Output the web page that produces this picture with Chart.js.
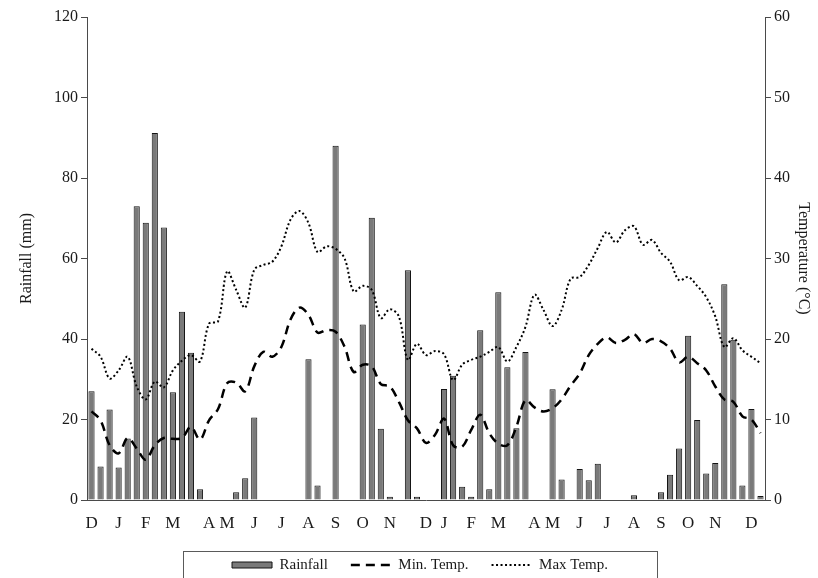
<!DOCTYPE html>
<html>
<head>
<meta charset="utf-8">
<script src="https://cdn.jsdelivr.net/npm/chart.js@4.4.1/dist/chart.umd.min.js"></script>
<style>
html,body{margin:0;padding:0;background:#fff;}
#wrap{width:818px;height:578px;position:relative;}
</style>
</head>
<body>
<div id="wrap"><canvas id="c" width="818" height="578"></canvas></div>
<script>
// Dekadal categories (month initial on the dekad where the original shows it)
const categories = [
  'D','','',  'J','','',  'F','','',  'M','','','',  'A','',  'M','','',
  'J','','',  'J','','',  'A','','',  'S','','',  'O','','',  'N','','','',
  'D','',  'J','','',  'F','','',  'M','','','',  'A','',  'M','','',
  'J','','',  'J','','',  'A','','',  'S','','',  'O','','',  'N','','','',
  'D',''
];

// Rainfall (mm) per dekad
const rainfall = [
  27.0, 8.3, 22.5, 8.1, 15.3, 73.0, 68.9, 91.2, 67.7, 26.8,
  46.8, 36.6, 2.7, 0, 0, 0, 1.9, 5.4, 20.5, 0,
  0, 0, 0, 0, 35.0, 3.6, 0, 88.0, 0, 0,
  43.6, 70.1, 17.7, 0.8, 0, 57.1, 0.8, 0, 0, 27.6,
  30.9, 3.3, 0.8, 42.2, 2.7, 51.6, 33.0, 17.8, 36.8, 0,
  0, 27.5, 5.1, 0, 7.7, 4.9, 9.0, 0, 0, 0,
  1.2, 0, 0, 1.9, 6.3, 12.8, 40.8, 19.9, 6.6, 9.2,
  53.6, 39.8, 3.6, 22.6, 1.0
];

// Minimum temperature (°C)
const minTemp = [
  11.0, 9.9, 6.8, 5.8, 7.7, 6.4, 5.0, 6.8, 7.7, 7.6,
  7.7, 9.1, 7.5, 9.9, 11.3, 14.5, 14.6, 13.5, 16.6, 18.4,
  17.8, 19.0, 22.4, 23.9, 23.0, 20.8, 21.1, 20.9, 19.0, 15.9,
  16.8, 16.6, 14.4, 14.1, 12.2, 9.9, 8.9, 7.1, 8.1, 10.1,
  6.8, 6.6, 8.7, 10.6, 8.3, 7.0, 6.8, 9.1, 12.4, 11.5,
  11.0, 11.4, 12.5, 14.2, 15.7, 18.0, 19.4, 20.2, 19.5, 19.9,
  20.6, 19.5, 20.0, 19.7, 18.8, 17.1, 17.8, 17.0, 16.1, 14.1,
  12.5, 12.2, 10.4, 10.0, 8.3
];

// Maximum temperature (°C)
const maxTemp = [
  18.8, 17.8, 15.1, 16.1, 17.8, 14.1, 12.5, 14.7, 14.0, 16.1,
  17.3, 18.0, 17.2, 21.9, 22.2, 28.4, 26.1, 23.9, 28.6, 29.2,
  29.6, 31.5, 34.8, 35.9, 34.4, 30.8, 31.5, 31.2, 30.0, 25.9,
  26.6, 26.1, 22.6, 23.7, 22.8, 17.4, 19.4, 18.0, 18.5, 18.1,
  14.9, 16.8, 17.4, 17.8, 18.4, 19.0, 17.2, 19.0, 21.5, 25.5,
  23.6, 21.6, 23.6, 27.5, 27.7, 29.2, 31.3, 33.3, 32.0, 33.5,
  34.0, 31.7, 32.3, 30.7, 29.6, 27.3, 27.7, 26.6, 25.2, 22.8,
  19.0, 20.1, 18.6, 17.8, 17.0
];

const rainTicks = {min: 0, max: 120, step: 20};
const tempTicks = {min: 0, max: 60, step: 10};

const SERIF = "'Liberation Serif', 'Times New Roman', serif";
const TEXT = '#1a1a1a';

const legendPad = 23;
const legendFont = 15;

// nudge the legend row into its place under the axis
const legendShift = {
  id: 'legendShift',
  afterLayout(chart) {
    const l = chart.legend;
    if (l) { l.top += 4.5; l.bottom += 4.5; l.left -= 6; l.right -= 6; }
  }
};

// thin frame round the legend (as in the original)
const legendFrame = {
  id: 'legendFrame',
  afterDraw(chart) {
    const l = chart.legend;
    if (!l || !l.legendHitBoxes || !l.legendHitBoxes.length) return;
    const hb = l.legendHitBoxes;
    const first = hb[0], last = hb[hb.length - 1];
    const mid = (first.left + last.left + last.width) / 2;
    const halfW = 237;
    const cy = first.top + first.height / 2;
    const c = chart.ctx;
    c.save();
    c.strokeStyle = '#5a5a5a';
    c.lineWidth = 1;
    c.setLineDash([]);
    c.strokeRect(Math.round(mid - halfW) + 0.5, Math.round(cy - 14) + 0.5, halfW * 2, 60);
    c.restore();
  }
};

new Chart(document.getElementById('c'), {
  type: 'bar',
  data: {
    labels: categories,
    datasets: [
      {
        type: 'bar',
        label: 'Rainfall',
        data: rainfall,
        yAxisID: 'y',
        backgroundColor: '#7a7a7a',
        borderColor: '#141414',
        borderWidth: 1,
        categoryPercentage: 1.0,
        barPercentage: 0.68,
        order: 2
      },
      {
        type: 'line',
        label: 'Min. Temp.',
        data: minTemp,
        yAxisID: 'y1',
        borderColor: '#000',
        backgroundColor: 'rgba(0,0,0,0)',
        borderWidth: 2.5,
        borderDash: [9, 6],
        pointRadius: 0,
        tension: 0.35,
        fill: false,
        order: 1
      },
      {
        type: 'line',
        label: 'Max Temp.',
        data: maxTemp,
        yAxisID: 'y1',
        borderColor: '#000',
        backgroundColor: 'rgba(0,0,0,0)',
        borderWidth: 2,
        borderDash: [2, 2.5],
        pointRadius: 0,
        tension: 0.35,
        fill: false,
        order: 0
      }
    ]
  },
  options: {
    responsive: false,
    animation: false,
    devicePixelRatio: 1,
    layout: { padding: { top: 17, left: 0, right: 0, bottom: 0 } },
    plugins: {
      tooltip: { enabled: false },
      legend: {
        display: true,
        position: 'bottom',
        fullSize: false,
        labels: {
          usePointStyle: true,
          pointStyleWidth: 40,
          boxWidth: 40,
          boxHeight: 6,
          padding: legendPad,
          color: TEXT,
          font: { family: SERIF, size: legendFont },
          generateLabels(chart) {
            return chart.data.datasets.map((ds, i) => ({
              text: ds.label,
              datasetIndex: i,
              hidden: false,
              fillStyle: ds.type === 'line' ? 'rgba(0,0,0,0)' : ds.backgroundColor,
              strokeStyle: ds.borderColor,
              lineWidth: ds.type === 'line' ? ds.borderWidth : 1,
              lineDash: ds.borderDash || [],
              pointStyle: ds.type === 'line' ? 'line' : 'rect',
              fontColor: TEXT
            }));
          }
        }
      }
    },
    scales: {
      x: {
        type: 'category',
        offset: true,
        grid: { display: false },
        border: { display: true, color: '#4a4a4a', width: 1 },
        ticks: {
          autoSkip: false,
          maxRotation: 0,
          minRotation: 0,
          padding: 5,
          color: TEXT,
          font: { family: SERIF, size: 17 }
        },
        afterFit(scale) { scale.height = 578 - 500 - (legendFont + legendPad + 10); }
      },
      y: {
        position: 'left',
        min: rainTicks.min,
        max: rainTicks.max,
        ticks: {
          stepSize: rainTicks.step,
          padding: 3,
          color: TEXT,
          font: { family: SERIF, size: 16 }
        },
        grid: { display: true, drawOnChartArea: false, drawTicks: true, tickLength: 6, color: '#4a4a4a' },
        border: { display: true, color: '#4a4a4a', width: 1 },
        title: {
          display: true,
          text: 'Rainfall (mm)',
          color: TEXT,
          font: { family: SERIF, size: 16 },
          padding: { top: 17, bottom: 0 }
        },
        afterFit(scale) { scale.width = 87; }
      },
      y1: {
        position: 'right',
        min: tempTicks.min,
        max: tempTicks.max,
        ticks: {
          stepSize: tempTicks.step,
          padding: 3,
          color: TEXT,
          font: { family: SERIF, size: 16 }
        },
        grid: { display: true, drawOnChartArea: false, drawTicks: true, tickLength: 6, color: '#4a4a4a' },
        border: { display: true, color: '#4a4a4a', width: 1 },
        title: {
          display: true,
          text: 'Temperature (°C)',
          color: TEXT,
          font: { family: SERIF, size: 16 },
          padding: { top: 5, bottom: 0 }
        },
        afterFit(scale) { scale.width = 53; }
      }
    }
  },
  plugins: [legendShift, legendFrame]
});
</script>
</body>
</html>
